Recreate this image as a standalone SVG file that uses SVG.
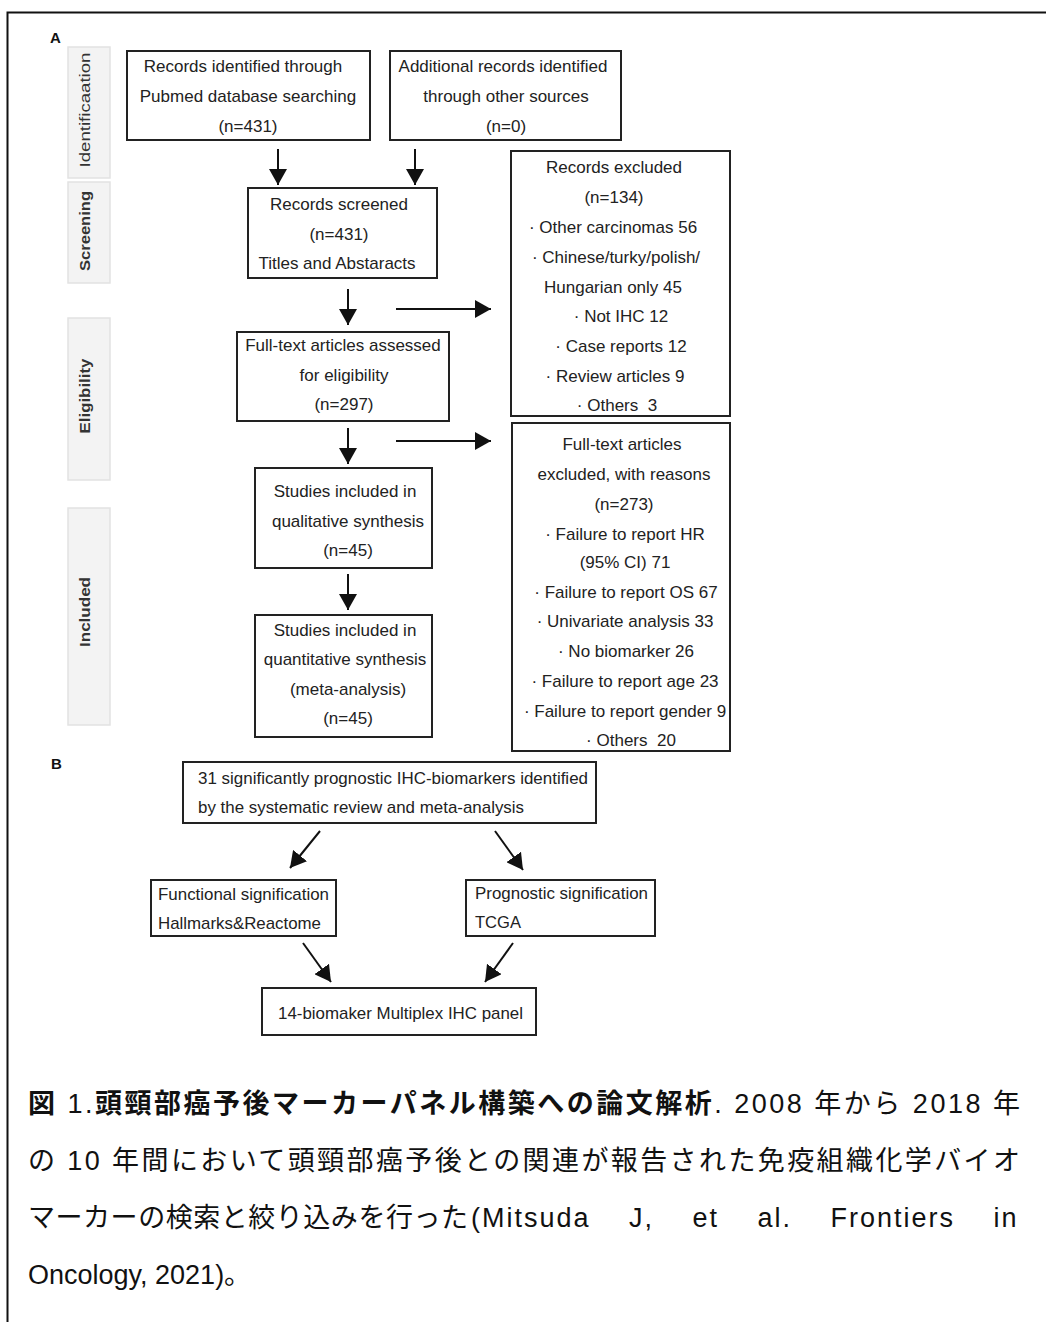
<svg xmlns="http://www.w3.org/2000/svg" width="1046" height="1322" viewBox="0 0 1046 1322">
<defs>
<marker id="ah" markerUnits="userSpaceOnUse" markerWidth="18" markerHeight="18" refX="16" refY="9" orient="auto"><path d="M0,0 L16,9 L0,18 Z" fill="#111"/></marker>
<style>
.t{font-family:"Liberation Sans",Arial,sans-serif;font-size:17px;fill:#222;text-anchor:middle}
.n{font-family:"Liberation Sans Narrow","Liberation Sans",Arial,sans-serif;font-size:17px;fill:#222}
.box{fill:#fff;stroke:#222;stroke-width:2}
.side{fill:#f3f3f3;stroke:#e2e2e2;stroke-width:1.5}
.sl{font-family:"Liberation Sans",Arial,sans-serif;font-size:15px;fill:#333;text-anchor:middle}
.lab{font-family:"Liberation Sans",Arial,sans-serif;font-size:15px;font-weight:bold;fill:#111}
.cap{font-family:"Liberation Sans","Noto Sans CJK JP",sans-serif;font-size:27px;fill:#111}
.c{stroke:#111;stroke-width:2;fill:none;marker-end:url(#ah)}
</style>
</defs>
<rect width="1046" height="1322" fill="#fff"/>
<g id="frame"><path d="M7.5,1322 V12.5 H1046" fill="none" stroke="#111" stroke-width="2"/></g>

<text class="lab" x="50" y="43">A</text>
<text class="lab" x="51" y="769">B</text>

<g id="stage-identification"><rect class="side" x="68" y="47" width="42" height="131"/><text class="sl" transform="translate(90,110) rotate(-90)" textLength="115" lengthAdjust="spacingAndGlyphs">Identificaation</text></g>
<g id="stage-screening"><rect class="side" x="68" y="182" width="42" height="101"/><text class="sl" font-weight="bold" transform="translate(90,231) rotate(-90)" textLength="80" lengthAdjust="spacingAndGlyphs">Screening</text></g>
<g id="stage-eligibility"><rect class="side" x="68" y="318" width="42" height="162"/><text class="sl" font-weight="bold" transform="translate(90,396) rotate(-90)" textLength="75" lengthAdjust="spacingAndGlyphs">Eligibility</text></g>
<g id="stage-included"><rect class="side" x="68" y="508" width="42" height="217"/><text class="sl" font-weight="bold" transform="translate(90,612) rotate(-90)" textLength="70" lengthAdjust="spacingAndGlyphs">Included</text></g>

<g id="n-pubmed"><rect class="box" x="127" y="51" width="243" height="89"/>
<text class="t" x="243" y="72">Records identified through</text>
<text class="t" x="248" y="102">Pubmed database searching</text>
<text class="t" x="248" y="132">(n=431)</text></g>

<g id="n-other"><rect class="box" x="390" y="51" width="231" height="89"/>
<text class="t" x="503" y="72">Additional records identified</text>
<text class="t" x="506" y="102">through other sources</text>
<text class="t" x="506" y="132">(n=0)</text></g>

<g id="n-screened"><rect class="box" x="248" y="188" width="189" height="90"/>
<text class="t" x="339" y="210">Records screened</text>
<text class="t" x="339" y="240">(n=431)</text>
<text class="t" x="337" y="269">Titles and Abstaracts</text></g>

<g id="n-fulltext"><rect class="box" x="237" y="332" width="212" height="89"/>
<text class="t" x="343" y="351">Full-text articles assessed</text>
<text class="t" x="344" y="381">for eligibility</text>
<text class="t" x="344" y="410">(n=297)</text></g>

<g id="n-qualitative"><rect class="box" x="255" y="468" width="177" height="100"/>
<text class="t" x="345" y="497">Studies included in</text>
<text class="t" x="348" y="527">qualitative synthesis</text>
<text class="t" x="348" y="556">(n=45)</text></g>

<g id="n-quantitative"><rect class="box" x="255" y="615" width="177" height="122"/>
<text class="t" x="345" y="636">Studies included in</text>
<text class="t" x="345" y="665">quantitative synthesis</text>
<text class="t" x="348" y="695">(meta-analysis)</text>
<text class="t" x="348" y="724">(n=45)</text></g>

<g id="n-records-excluded"><rect class="box" x="511" y="151" width="219" height="265" stroke-width="1.6"/>
<text class="t" x="614" y="173">Records excluded</text>
<text class="t" x="614" y="203">(n=134)</text>
<text class="t" x="613" y="233">· Other carcinomas 56</text>
<text class="t" x="616" y="263">· Chinese/turky/polish/</text>
<text class="t" x="613" y="293">Hungarian only 45</text>
<text class="t" x="621" y="322">· Not IHC 12</text>
<text class="t" x="621" y="352">· Case reports 12</text>
<text class="t" x="615" y="382">· Review articles 9</text>
<text class="t" x="617" y="411" xml:space="preserve">· Others  3</text></g>

<g id="n-fulltext-excluded"><rect class="box" x="512" y="423" width="218" height="328" stroke-width="2.5"/>
<text class="t" x="622" y="450">Full-text articles</text>
<text class="t" x="624" y="480">excluded, with reasons</text>
<text class="t" x="624" y="510">(n=273)</text>
<text class="t" x="625" y="540">· Failure to report HR</text>
<text class="t" x="625" y="568">(95% CI) 71</text>
<text class="t" x="626" y="598">· Failure to report OS 67</text>
<text class="t" x="625" y="627">· Univariate analysis 33</text>
<text class="t" x="626" y="657">· No biomarker 26</text>
<text class="t" x="625" y="687">· Failure to report age 23</text>
<text class="t" x="625" y="717">· Failure to report gender 9</text>
<text class="t" x="631" y="746" xml:space="preserve">· Others  20</text></g>

<g id="n-31-biomarkers"><rect class="box" x="183" y="762" width="413" height="61"/>
<text class="n" x="198" y="784" textLength="390" lengthAdjust="spacingAndGlyphs">31 significantly prognostic IHC-biomarkers identified</text>
<text class="n" x="198" y="813" textLength="326" lengthAdjust="spacingAndGlyphs">by the systematic review and meta-analysis</text></g>

<g id="n-functional"><rect class="box" x="151" y="880" width="185" height="56"/>
<text class="n" x="158" y="900" textLength="171" lengthAdjust="spacingAndGlyphs">Functional signification</text>
<text class="n" x="158" y="929" textLength="163" lengthAdjust="spacingAndGlyphs">Hallmarks&amp;Reactome</text></g>

<g id="n-prognostic"><rect class="box" x="466" y="880" width="189" height="56"/>
<text class="n" x="475" y="899" textLength="173" lengthAdjust="spacingAndGlyphs">Prognostic signification</text>
<text class="n" x="475" y="928" textLength="46" lengthAdjust="spacingAndGlyphs">TCGA</text></g>

<g id="n-panel"><rect class="box" x="262" y="988" width="274" height="47"/>
<text class="n" x="278" y="1019" textLength="245" lengthAdjust="spacingAndGlyphs">14-biomaker Multiplex IHC panel</text></g>

<g id="connectors">
<line class="c" x1="278" y1="149" x2="278" y2="185"/>
<line class="c" x1="415" y1="149" x2="415" y2="185"/>
<line class="c" x1="348" y1="289" x2="348" y2="325"/>
<line class="c" x1="396" y1="309" x2="491" y2="309"/>
<line class="c" x1="348" y1="428" x2="348" y2="464"/>
<line class="c" x1="396" y1="441" x2="491" y2="441"/>
<line class="c" x1="348" y1="574" x2="348" y2="610"/>
<line class="c" x1="320" y1="831" x2="290" y2="868"/>
<line class="c" x1="495" y1="831" x2="523" y2="870"/>
<line class="c" x1="303" y1="943" x2="331" y2="982"/>
<line class="c" x1="513" y1="943" x2="485" y2="982"/>
</g>

<g id="caption">
<text class="cap" x="28" y="1113" textLength="992" lengthAdjust="spacing"><tspan font-weight="bold">図</tspan> 1.<tspan font-weight="bold">頭頸部癌予後マーカーパネル構築への論文解析</tspan>. 2008 年から 2018 年</text>
<text class="cap" x="28" y="1170" textLength="992" lengthAdjust="spacing">の 10 年間において頭頸部癌予後との関連が報告された免疫組織化学バイオ</text>
<text class="cap" x="28" y="1227" textLength="440" lengthAdjust="spacing">マーカーの検索と絞り込みを行った</text>
<text class="cap" x="471" y="1227" letter-spacing="2" word-spacing="29">(Mitsuda J, et al. Frontiers in</text>
<text class="cap" x="28" y="1284">Oncology, 2021)。</text>
</g>
</svg>
